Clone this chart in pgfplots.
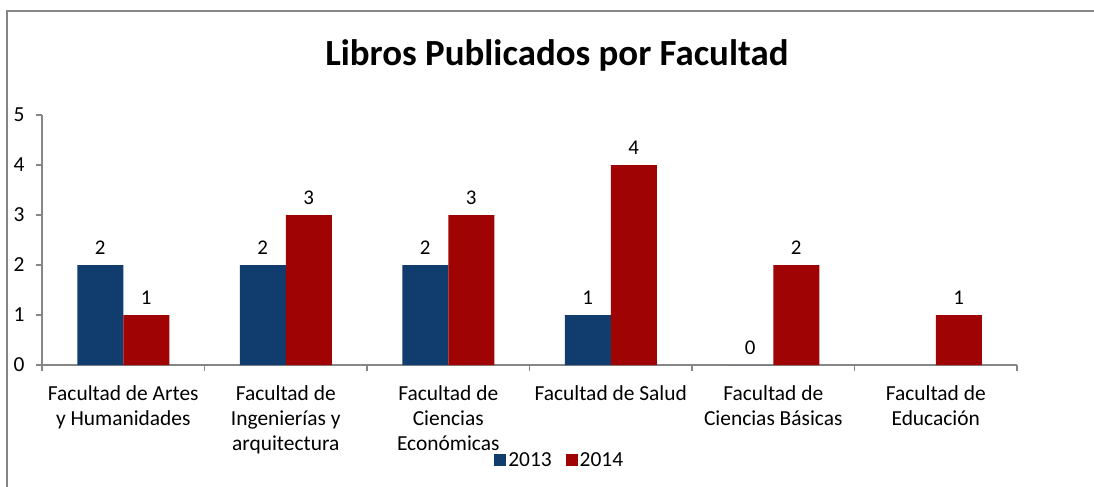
\documentclass[border=0pt]{standalone}
\usepackage{fontspec}
\setmainfont{Carlito}
\usepackage{pgfplots}
\pgfplotsset{compat=1.18}
\definecolor{azul}{HTML}{113C6E}
\definecolor{rojo}{HTML}{A00303}
\definecolor{eje}{HTML}{868686}
\begin{document}
\begin{tikzpicture}
\path[use as bounding box] (0,0) rectangle (1094bp,487bp);
\draw[eje, line width=2bp] (7bp,0) -- (7bp,476bp) -- (1094bp,476bp);
\begin{axis}[
  at={(42bp,122bp)}, anchor=south west,
  scale only axis, width=975bp, height=250bp,
  ybar=0pt, bar width=46bp,
  xmin=-0.5, xmax=5.5, ymin=0, ymax=5,
  xtick={0,1,2,3,4,5},
  xticklabels={{Facultad de Artes\\y Humanidades},{Facultad de\\Ingenierías y\\arquitectura},{Facultad de\\Ciencias\\Económicas},{Facultad de Salud},{Facultad de\\Ciencias Básicas},{Facultad de\\Educación}},
  minor xtick={-0.5,0.5,...,5.5},
  ytick={0,1,2,3,4,5},
  axis lines*=left,
  axis line style={eje, line width=1.2bp},
  tick align=outside,
  major tick length=6bp, minor tick length=6bp,
  major x tick style={draw=none},
  minor x tick style={eje, line width=1.2bp},
  ytick style={eje, line width=1.2bp},
  tick label style={font=\fontsize{21.5}{25}\selectfont},
  xticklabel style={align=center, yshift=-11bp},
  yticklabel style={xshift=-8bp},
  /pgf/number format/assume math mode=true,
  nodes near coords,
  nodes near coords style={font=\fontsize{21}{24}\selectfont, yshift=7bp, text=black},
  legend style={at={(0.531,-0.38)}, anchor=center, draw=none, fill=none,
    legend columns=2, font=\fontsize{21.5}{25}\selectfont,
    /tikz/every even column/.append style={column sep=12bp}},
  legend image code/.code={\fill[#1] (2bp,-6bp) rectangle (14bp,6bp);},
  clip=false,
]
\addplot[draw=none, fill=azul]
  coordinates {(0,2) (1,2) (2,2) (3,1) (4,0)};
\addplot[draw=none, fill=rojo]
  coordinates {(0,1) (1,3) (2,3) (3,4) (4,2) (5,1)};
\legend{2013,2014}
\node[font=\bfseries\fontsize{37}{44}\selectfont] at (axis description cs:0.528,1.24) {Libros Publicados por Facultad};
\end{axis}
\end{tikzpicture}
\end{document}
